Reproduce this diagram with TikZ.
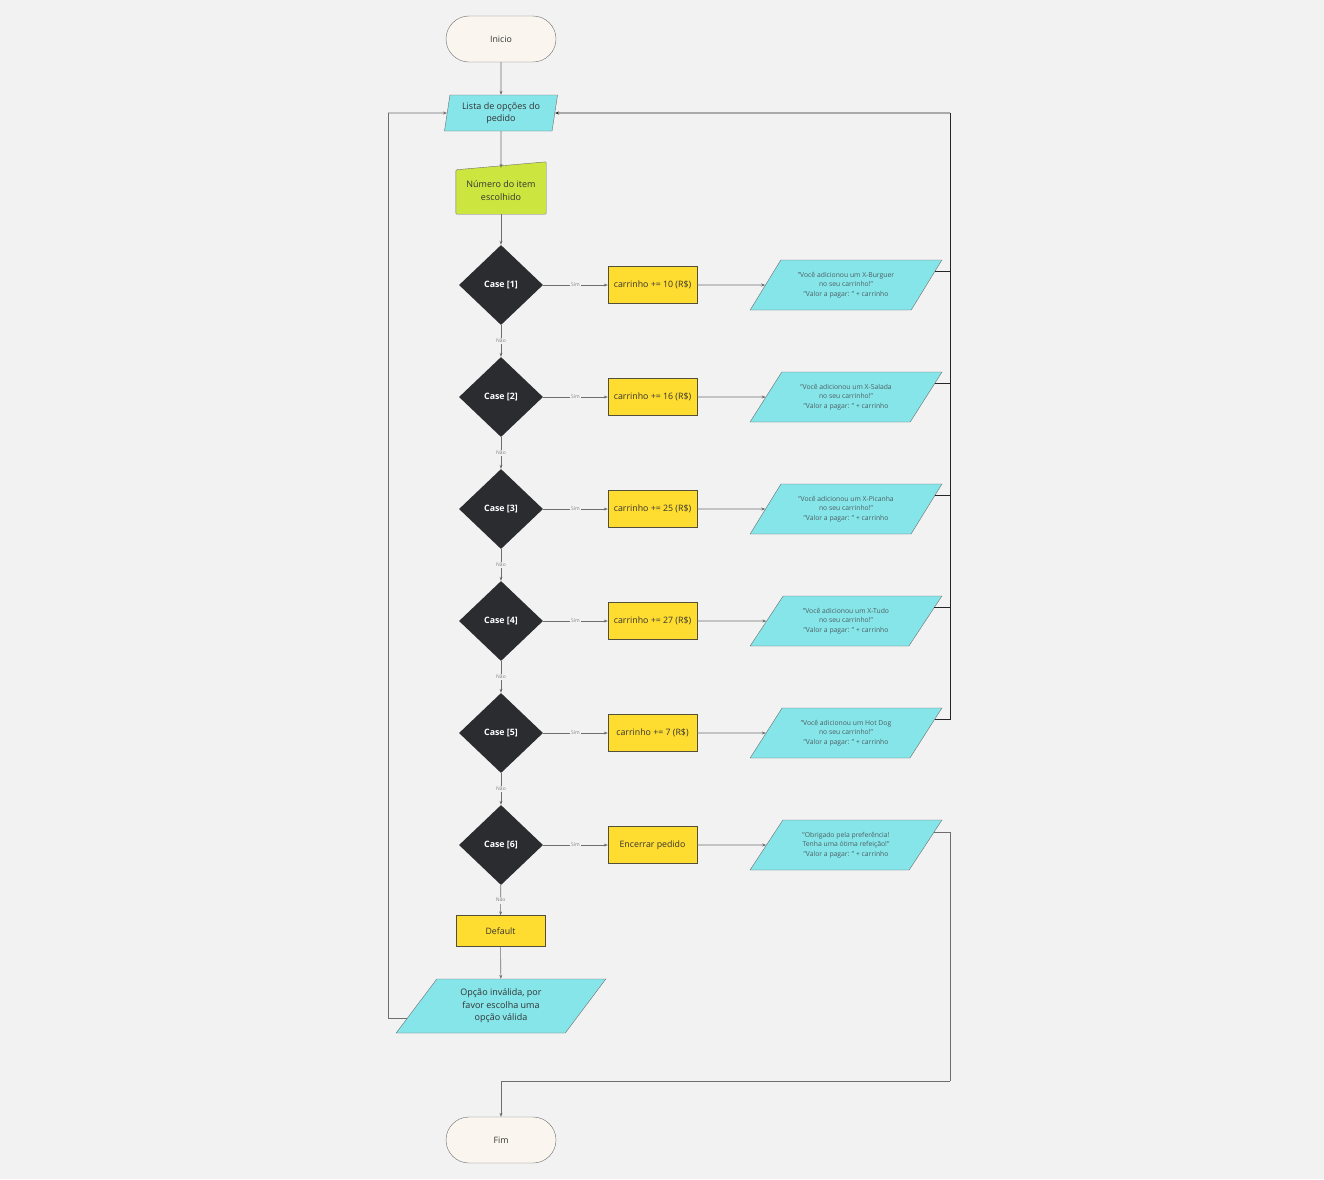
\documentclass[tikz,border=0pt]{standalone}
\usepackage{fontspec}
\setmainfont{Open Sans}
\usepackage{tikz}
\usetikzlibrary{arrows.meta,calc,backgrounds,positioning,shapes.geometric,shapes.misc}
\definecolor{bgpage}{HTML}{F2F2F2}
\definecolor{cream}{HTML}{FAF6EF}
\definecolor{cyanio}{HTML}{85E5E9}
\definecolor{lime}{HTML}{CDE63F}
\definecolor{yellowact}{HTML}{FFDC30}
\definecolor{darkcase}{HTML}{2B2C30}
\definecolor{edge}{HTML}{6E6E6E}
\definecolor{ink}{HTML}{333333}
\definecolor{softink}{HTML}{4F5F60}

\begin{document}
\begin{tikzpicture}[x=1pt,y=-1pt,
    terminal/.style={rounded rectangle,draw=edge,fill=cream,minimum width=110pt,minimum height=46pt,inner sep=0pt,font=\fontsize{8.8}{10}\selectfont,text=ink},
    case/.style={diamond,fill=darkcase,minimum width=84pt,minimum height=80pt,inner sep=0pt,font=\fontsize{8.8}{10}\selectfont\bfseries,text=white},
    action/.style={rectangle,draw=edge!80!yellowact!60!black,fill=yellowact,minimum width=89pt,minimum height=37pt,inner sep=0pt,font=\fontsize{8.8}{10}\selectfont,text=ink},
    output/.style={trapezium,trapezium stretches=true,trapezium left angle=49,trapezium right angle=131,draw=edge,fill=cyanio,minimum width=192pt,minimum height=50pt,inner sep=0pt,align=center,font=\fontsize{6.8}{9.6}\selectfont,text=softink},
    flow/.style={draw=edge,line width=0.6pt,-{Stealth[length=4pt,width=3pt]}},
    back/.style={draw=black!85,line width=0.9pt},
    yes/.style={fill=bgpage,inner sep=1.5pt,font=\fontsize{5}{6}\selectfont,text=black!50},
    no/.style={fill=bgpage,inner sep=1.5pt,font=\fontsize{5}{6}\selectfont,text=black!50}]
  % start and menu
  \node[terminal] (inicio) at (501,39) {Inicio};
  \node[trapezium,trapezium stretches=true,trapezium left angle=79,trapezium right angle=101,draw=edge,fill=cyanio,minimum width=114pt,minimum height=36pt,inner sep=0pt,align=center,font=\fontsize{9}{12.5}\selectfont,text=ink] (lista) at (501,113) {Lista de opções do\\pedido};
  \node[minimum width=90pt,minimum height=46pt,inner sep=0pt,align=center,font=\fontsize{9}{13}\selectfont,text=ink] (numero) at (501,191) {Número do item\\escolhido};
  \begin{scope}[on background layer]
    \fill[bgpage] (0,0) rectangle (1324,1179);
    \draw[draw=edge,fill=lime,rounded corners=1pt] (numero.south west) -- (numero.south east) -- ($(numero.north east)+(0,-6)$) -- ($(numero.north west)+(0,2)$) -- cycle;
  \end{scope}
  \draw[flow] (inicio) -- (lista);
  \draw[flow] (lista) -- (numero);
  % the six cases
  \foreach \i/\yy/\act/\msg in {
      1/285/{carrinho += 10 (R\$)}/{"Você adicionou um X-Burguer\\no seu carrinho!"\\"Valor a pagar: " + carrinho},
      2/397/{carrinho += 16 (R\$)}/{"Você adicionou um X-Salada\\no seu carrinho!"\\"Valor a pagar: " + carrinho},
      3/509/{carrinho += 25 (R\$)}/{"Você adicionou um X-Picanha\\no seu carrinho!"\\"Valor a pagar: " + carrinho},
      4/621/{carrinho += 27 (R\$)}/{"Você adicionou um X-Tudo\\no seu carrinho!"\\"Valor a pagar: " + carrinho},
      5/733/{carrinho += 7 (R\$)}/{"Você adicionou um Hot Dog\\no seu carrinho!"\\"Valor a pagar: " + carrinho},
      6/845/{Encerrar pedido}/{"Obrigado pela preferência!\\Tenha uma ótima refeição!"\\"Valor a pagar: " + carrinho}}{
    \node[case] (c\i) at (501,\yy) {Case [\i]};
    \node[action] (a\i) at (652.5,\yy) {\act};
    \node[output] (o\i) at (846,\yy) {\msg};
    \draw[flow] (c\i) -- node[yes] {Sim} (a\i);
    \draw[flow] (a\i) -- (o\i.west);
  }
  \draw[flow] (numero) -- (c1);
  \foreach \i [evaluate=\i as \j using int(\i+1)] in {1,...,5}{
    \draw[flow] (c\i) -- node[no] {Não} (c\j);
  }
  % default branch
  \node[action,minimum height=31pt] (default) at (500.5,931) {Default};
  \node[trapezium,trapezium stretches=true,trapezium left angle=53,trapezium right angle=127,draw=edge,fill=cyanio,minimum width=210pt,minimum height=54pt,inner sep=0pt,align=center,font=\fontsize{9}{12.5}\selectfont,text=ink] (invalida) at (501,1006) {Opção inválida, por\\favor escolha uma\\opção válida};
  \draw[flow] (c6) -- node[no] {Não} (default);
  \draw[flow] (default) -- (invalida);
  \node[terminal] (fim) at (501,1140) {Fim};
  % return lines
  \coordinate (retR) at (950,113);
  \coordinate (retL) at (388,113);
  \coordinate (toEnd) at (950,1081);
  \foreach \i in {1,...,5}{
    \draw[back] ($(o\i.top right corner)!0.24!(o\i.bottom right corner)$) -| (retR);
  }
  \draw[back,-{Stealth[length=4pt,width=3pt]}] (retR) -- (lista.east);
  \draw[draw=edge,line width=0.6pt] ($(o6.top right corner)!0.24!(o6.bottom right corner)$) -| (toEnd);
  \draw[flow] (toEnd) -| (fim.north);
  \draw[draw=edge,line width=0.6pt] ($(invalida.top left corner)!0.72!(invalida.bottom left corner)$) -| (retL);
  \draw[flow] (retL) -- (lista.west);
\end{tikzpicture}
\end{document}
